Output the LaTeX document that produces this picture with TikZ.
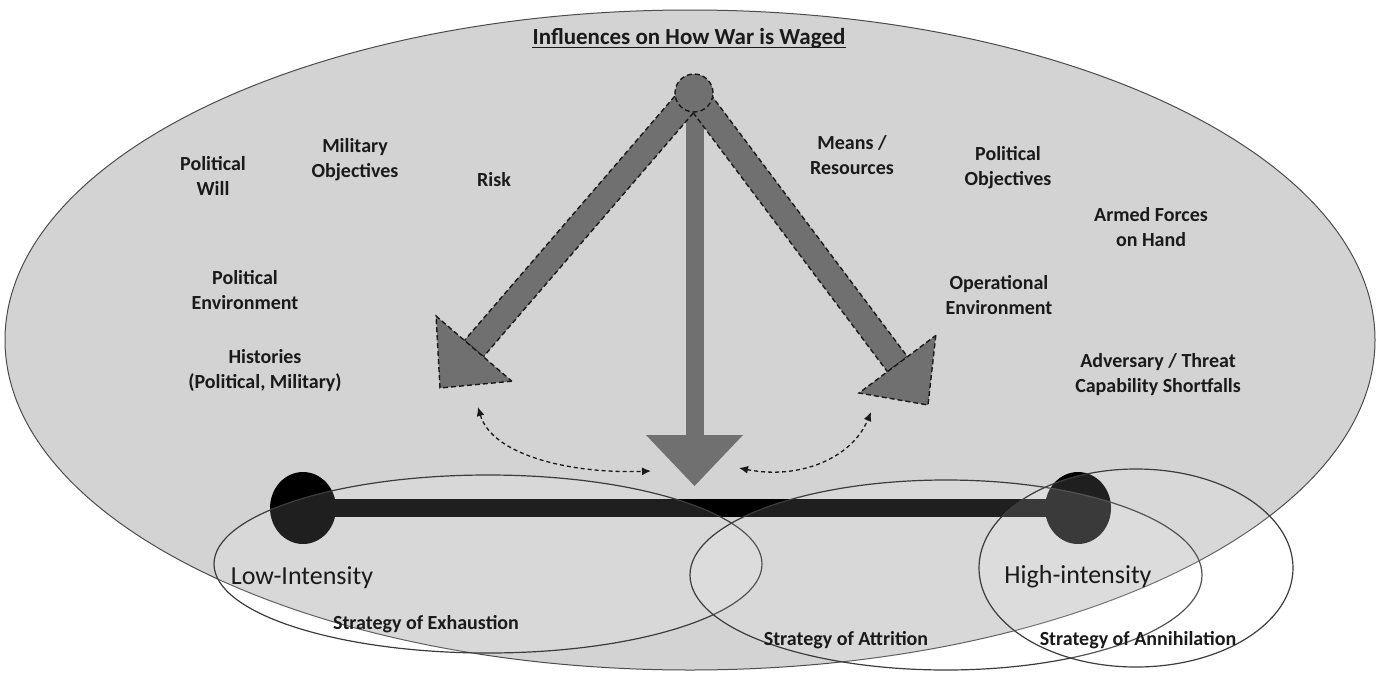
\documentclass[tikz,border=0pt]{standalone}
\usepackage{fontspec}
\setmainfont{Carlito}
\usetikzlibrary{calc,arrows.meta,shapes.geometric}
\definecolor{fieldgray}{HTML}{D3D3D3}
\definecolor{arrowgray}{HTML}{707070}
\definecolor{ink}{HTML}{1A1A1A}
\tikzset{
  lbl/.style={font=\fontsize{20}{25}\selectfont\bfseries, text=ink, align=center, inner sep=0pt},
  biglbl/.style={font=\fontsize{26}{30}\selectfont, text=ink, inner sep=0pt},
  dashedge/.style={draw=ink, line width=1.4pt, dash pattern=on 5pt off 3pt},
  zone/.style={draw=ink!85, line width=1.2pt, fill=white, fill opacity=0.12},
  knob/.style={ellipse, fill=black, inner sep=0pt, minimum width=66pt, minimum height=72pt},
  linkarrow/.style={draw=ink, line width=1.3pt, dash pattern=on 4pt off 3pt,
    {Latex[length=9pt,width=8pt]}-{Latex[length=9pt,width=8pt]}},
}
\begin{document}
\begin{tikzpicture}[x=1pt,y=-1pt]
\useasboundingbox (0,0) rectangle (1376,675);
\fill[white] (0,0) rectangle (1376,675);

% field of influences
\draw[fill=fieldgray, draw=gray!60!black, line width=1pt] (690,340) ellipse [x radius=685pt, y radius=330pt];

% hub and the three arrows
\coordinate (hub) at (694,93);
\coordinate (tipL) at (440,388);
\coordinate (tipR) at (928,405);
\coordinate (baseL) at ($(tipL)!52pt!(hub)$);
\coordinate (baseR) at ($(tipR)!51pt!(hub)$);

% central arrow
\fill[arrowgray] (685.5,93) rectangle (703.5,436);
\fill[arrowgray] (646,435) -- (743,435) -- (694.5,486) -- cycle;

% left arrow
\path[fill=arrowgray, dashedge] ($(hub)!12.5pt!90:(baseL)$) -- ($(hub)!12.5pt!-90:(baseL)$)
  -- ($(baseL)!12.5pt!90:(hub)$) -- ($(baseL)!12.5pt!-90:(hub)$) -- cycle;
\path[fill=arrowgray, dashedge] ($(baseL)!50pt!90:(tipL)$) -- (tipL) -- ($(baseL)!50pt!-90:(tipL)$) -- cycle;

% right arrow
\path[fill=arrowgray, dashedge] ($(hub)!12.5pt!90:(baseR)$) -- ($(hub)!12.5pt!-90:(baseR)$)
  -- ($(baseR)!12.5pt!90:(hub)$) -- ($(baseR)!12.5pt!-90:(hub)$) -- cycle;
\path[fill=arrowgray, dashedge] ($(baseR)!48pt!90:(tipR)$) -- (tipR) -- ($(baseR)!48pt!-90:(tipR)$) -- cycle;

\node[circle, minimum size=38pt, inner sep=0pt, fill=arrowgray, dashedge] (hubdot) at (hub) {};

% intensity scale
\node[knob] (lowend) at (303,508) {};
\node[knob] (highend) at (1078,508) {};
\draw[black, line width=18pt] (lowend.center) -- (highend.center);

% strategy zones
\path[zone] (488,564) ellipse [x radius=274pt, y radius=89pt];
\path[zone] (946,575) ellipse [x radius=256pt, y radius=95pt];
\path[zone] (1136,568) ellipse [x radius=157pt, y radius=99pt];

% dashed two-way links
\coordinate (lA) at (478,407);
\coordinate (lB) at (651,471);
\coordinate (rA) at (739,468);
\coordinate (rB) at (871,412);
\draw[linkarrow] (lA) .. controls (492,455) and (570,474) .. (lB);
\draw[linkarrow] (rA) .. controls (800,480) and (852,458) .. (rB);

% title
\node[font=\fontsize{23}{27}\selectfont\bfseries, text=ink, inner sep=0pt] (title) at (689,38) {Influences on How War is Waged};
\draw[ink, line width=1.5pt] ($(title.base west)+(0,3.5)$) -- ($(title.base east)+(0,3.5)$);

% influences
\node[lbl] (polwill) at (213,176) {Political\\Will};
\node[lbl] (milobj) at (355,160) {Military\\Objectives};
\node[lbl] (risk) at (494,180) {Risk};
\node[lbl] (means) at (852,155) {Means /\\Resources};
\node[lbl] (polobj) at (1008,168) {Political\\Objectives};
\node[lbl] (armed) at (1151,227) {Armed Forces\\on Hand};
\node[lbl] (polenv) at (245,290) {Political\\Environment};
\node[lbl] (openv) at (999,295) {Operational\\Environment};
\node[lbl] (hist) at (265,371) {Histories\\(Political, Military)};
\node[lbl] (adver) at (1158,375) {Adversary / Threat\\Capability Shortfalls};

% scale and strategy labels
\node[biglbl] (low) at (302,578) {Low-Intensity};
\node[biglbl] (high) at (1078,577) {High-intensity};
\node[lbl] (exhaust) at (426,624) {Strategy of Exhaustion};
\node[lbl] (attrit) at (846,640) {Strategy of Attrition};
\node[lbl] (annih) at (1138,640) {Strategy of Annihilation};
\end{tikzpicture}
\end{document}
